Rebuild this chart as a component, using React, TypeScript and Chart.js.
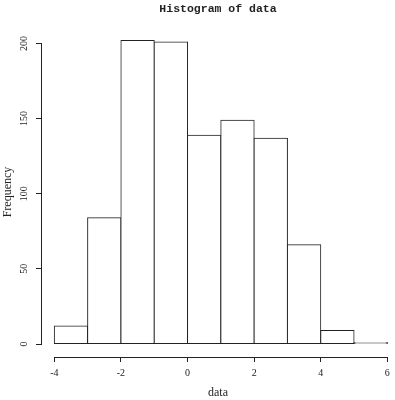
import React, { useEffect, useRef } from "react";
import { Chart, registerables } from "chart.js";

Chart.register(...registerables);

// ---- data ----
const binEdges: number[] = [-4, -3, -2, -1, 0, 1, 2, 3, 4, 5, 6];
const counts: number[] = [12, 84, 202, 201, 139, 149, 137, 66, 9, 1];
const xTickValues: number[] = [-4, -2, 0, 2, 4, 6];
const yTickValues: number[] = [0, 50, 100, 150, 200];
const mainTitle = "Histogram of data";
const xTitle = "data";
const yTitle = "Frequency";

const INK = "#222222";
const serif = '"Liberation Serif", "DejaVu Serif", serif';

const rAxesPlugin = {
  id: "rAxes",
  afterDraw(chart: any) {
    const { ctx, chartArea, scales } = chart;
    const xs = scales.x;
    const ys = scales.y;
    ctx.save();
    ctx.strokeStyle = INK;
    ctx.lineWidth = 1;
    // x axis line (from first to last tick), at bottom of plot region
    const yb = Math.round(chartArea.bottom) + 0.5;
    ctx.beginPath();
    ctx.moveTo(Math.round(xs.getPixelForValue(xTickValues[0])), yb);
    ctx.lineTo(Math.round(xs.getPixelForValue(xTickValues[xTickValues.length - 1])) + 1, yb);
    ctx.stroke();
    // y axis line (from first to last tick), at left of plot region
    const xl = Math.round(chartArea.left) + 0.5;
    ctx.beginPath();
    ctx.moveTo(xl, Math.round(ys.getPixelForValue(yTickValues[0])) + 1);
    ctx.lineTo(xl, Math.round(ys.getPixelForValue(yTickValues[yTickValues.length - 1])));
    ctx.stroke();
    ctx.restore();
  },
};

export default function App() {
  const canvasRef = useRef<HTMLCanvasElement | null>(null);

  useEffect(() => {
    if (!canvasRef.current) return;
    const points = counts.map((c, i) => ({
      x: (binEdges[i] + binEdges[i + 1]) / 2,
      y: c,
    }));
    const chart = new Chart(canvasRef.current, {
      type: "bar",
      data: {
        datasets: [
          {
            data: points as any,
            backgroundColor: "#ffffff",
            borderColor: INK,
            borderWidth: 1,
            borderSkipped: false,
            inflateAmount: 0.5,
            barPercentage: 1,
            categoryPercentage: 1,
          } as any,
        ],
      },
      options: {
        animation: false,
        responsive: false,
        layout: { padding: { left: 0, right: 0, top: 0, bottom: 0 } },
        plugins: {
          legend: { display: false },
          tooltip: { enabled: false },
          title: {
            display: true,
            text: mainTitle,
            fullSize: false,
            color: INK,
            font: { family: '"Liberation Mono", "DejaVu Sans Mono", monospace', size: 11.5, weight: "bold", lineHeight: 1.2 },
            padding: { top: 2, bottom: 11.2 },
          },
        },
        scales: {
          x: {
            type: "linear",
            min: -4.4,
            max: 6.23,
            offset: false,
            bounds: "data",
            afterBuildTicks: (s: any) => {
              s.ticks = xTickValues.map((v) => ({ value: v }));
            },
            afterFit: (s: any) => {
              s.height = 43;
            },
            border: { display: false },
            grid: { offset: false, drawOnChartArea: false, drawTicks: true, tickLength: 5, color: INK, lineWidth: 1 },
            ticks: {
              autoSkip: false,
              maxRotation: 0,
              minRotation: 0,
              padding: 5,
              color: INK,
              font: { family: serif, size: 10, lineHeight: 1.2 },
              callback: (v: any) => String(v),
            },
            title: {
              display: true,
              text: xTitle,
              color: INK,
              font: { family: serif, size: 12, lineHeight: 1.2 },
              padding: { top: 0, bottom: 0 },
            },
          },
          y: {
            type: "linear",
            min: -8.652,
            max: 210.98,
            bounds: "data",
            afterBuildTicks: (s: any) => {
              s.ticks = yTickValues.map((v) => ({ value: v }));
            },
            afterFit: (s: any) => {
              s.width = 41;
            },
            border: { display: false },
            grid: { drawOnChartArea: false, drawTicks: true, tickLength: 5, color: INK, lineWidth: 1 },
            ticks: {
              autoSkip: false,
              minRotation: 90,
              maxRotation: 90,
              crossAlign: "center",
              padding: 4,
              color: INK,
              font: { family: serif, size: 10, lineHeight: 1.2 },
              callback: (v: any) => String(v),
            },
            title: {
              display: true,
              text: yTitle,
              color: INK,
              font: { family: serif, size: 12, lineHeight: 1.2 },
              padding: { top: 1, bottom: 0 },
            },
          },
        },
      } as any,
      plugins: [rAxesPlugin],
    });
    return () => chart.destroy();
  }, []);

  return (
    <div style={{ position: "absolute", left: 0, top: 0, width: 395, height: 400, background: "#ffffff" }}>
      <canvas ref={canvasRef} width={395} height={400} style={{ display: "block" }} />
    </div>
  );
}
